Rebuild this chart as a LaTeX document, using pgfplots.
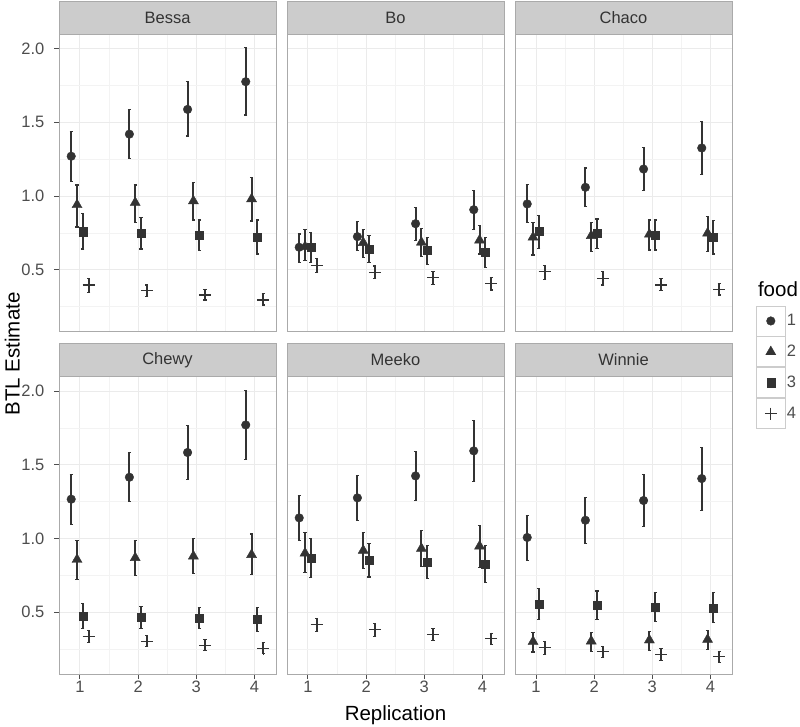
\documentclass[border=0pt]{standalone}
\usepackage{pgfplots}
\pgfplotsset{compat=1.18}
\usepackage{pgfplotstable}
\usepackage{fontspec}
\setmainfont{Liberation Sans}
\definecolor{pt}{HTML}{333333}
\definecolor{gridmaj}{HTML}{EBEBEB}
\definecolor{gridmin}{HTML}{F3F3F3}
\definecolor{stripfill}{HTML}{CCCCCC}
\definecolor{frame}{HTML}{AAAAAA}
\definecolor{ticktext}{HTML}{4D4D4D}
\definecolor{keyborder}{HTML}{CCCCCC}

\pgfplotstableread{
rep y1 l1 h1 y2 l2 h2 y3 l3 h3 y4 l4 h4
1 1.270 1.100 1.440 0.940 0.790 1.075 0.758 0.640 0.880 0.396 0.346 0.440
2 1.420 1.256 1.588 0.955 0.820 1.075 0.747 0.640 0.853 0.357 0.320 0.396
3 1.588 1.407 1.776 0.966 0.837 1.090 0.735 0.630 0.837 0.328 0.294 0.367
4 1.776 1.550 2.007 0.980 0.830 1.124 0.720 0.606 0.837 0.294 0.260 0.340
}\bessa
\pgfplotstableread{
rep y1 l1 h1 y2 l2 h2 y3 l3 h3 y4 l4 h4
1 0.652 0.550 0.742 0.656 0.560 0.770 0.652 0.550 0.750 0.527 0.480 0.577
2 0.724 0.630 0.826 0.683 0.580 0.770 0.640 0.547 0.730 0.482 0.440 0.525
3 0.812 0.700 0.920 0.685 0.590 0.780 0.630 0.536 0.717 0.446 0.400 0.486
4 0.907 0.770 1.040 0.700 0.606 0.800 0.618 0.516 0.717 0.405 0.362 0.448
}\bo
\pgfplotstableread{
rep y1 l1 h1 y2 l2 h2 y3 l3 h3 y4 l4 h4
1 0.946 0.820 1.080 0.720 0.600 0.820 0.762 0.645 0.870 0.486 0.434 0.530
2 1.059 0.930 1.190 0.730 0.622 0.820 0.747 0.645 0.844 0.440 0.396 0.486
3 1.183 1.036 1.330 0.740 0.633 0.837 0.735 0.633 0.837 0.396 0.357 0.440
4 1.326 1.147 1.505 0.747 0.622 0.860 0.720 0.606 0.833 0.367 0.328 0.407
}\chaco
\pgfplotstableread{
rep y1 l1 h1 y2 l2 h2 y3 l3 h3 y4 l4 h4
1 1.267 1.097 1.434 0.857 0.720 0.986 0.473 0.389 0.559 0.335 0.292 0.378
2 1.416 1.249 1.586 0.869 0.751 0.986 0.466 0.389 0.540 0.303 0.265 0.342
3 1.584 1.400 1.769 0.880 0.760 1.000 0.460 0.387 0.534 0.276 0.242 0.314
4 1.771 1.538 2.004 0.890 0.756 1.030 0.450 0.371 0.534 0.253 0.217 0.292
}\chewy
\pgfplotstableread{
rep y1 l1 h1 y2 l2 h2 y3 l3 h3 y4 l4 h4
1 1.140 0.986 1.294 0.900 0.767 1.040 0.867 0.733 0.998 0.414 0.371 0.457
2 1.276 1.124 1.428 0.919 0.796 1.040 0.853 0.738 0.966 0.382 0.337 0.421
3 1.425 1.258 1.593 0.932 0.808 1.054 0.839 0.726 0.952 0.348 0.310 0.389
4 1.595 1.385 1.803 0.948 0.805 1.088 0.828 0.699 0.952 0.321 0.280 0.355
}\meeko
\pgfplotstableread{
rep y1 l1 h1 y2 l2 h2 y3 l3 h3 y4 l4 h4
1 1.007 0.853 1.158 0.300 0.230 0.360 0.552 0.450 0.658 0.258 0.213 0.300
2 1.124 0.966 1.280 0.303 0.235 0.364 0.545 0.450 0.643 0.230 0.190 0.269
3 1.258 1.084 1.432 0.310 0.242 0.367 0.536 0.439 0.631 0.213 0.172 0.253
4 1.407 1.190 1.620 0.314 0.247 0.378 0.529 0.428 0.631 0.197 0.156 0.235
}\winnie

\pgfplotsset{
  panel/.style={
    scale only axis, width=217pt, height=297.5pt,
    anchor=south west,
    xmin=0.64, xmax=4.37, ymin=0.08, ymax=2.10,
    xtick={1,2,3,4}, minor xtick={1.5,2.5,3.5},
    ytick={0.5,1,1.5,2}, minor ytick={0.25,0.75,1.25,1.75},
    xticklabels={}, yticklabels={},
    grid=both,
    major grid style={gridmaj, line width=0.9pt},
    minor grid style={gridmin, line width=0.6pt},
    axis line style={frame, line width=0.9pt},
    tick align=outside, tick pos=left,
    major tick length=5pt, minor tick length=0pt,
    tick style={ticktext, line width=0.9pt},
    ticklabel style={font=\fontsize{16.5}{18}\selectfont, text=ticktext},
    yticklabel style={inner xsep=1.5pt, xshift=-8pt},
    xticklabel style={inner ysep=2pt},
    error bars/y dir=both, error bars/y explicit,
    error bars/error bar style={line width=1.9pt, pt},
    error bars/error mark options={rotate=90, pt, line width=1.2pt, mark size=1.6pt},
    legend image code/.code={
      \draw[keyborder, fill=white, line width=0.9pt] (0pt,-15pt) rectangle (29pt,15pt);
      \draw plot[only marks] coordinates {(14.5pt,0pt)};
    },
  },
  strip/.style={
    after end axis/.append code={
      \draw[frame, fill=stripfill, line width=0.9pt] (rel axis cs:0,1) rectangle ([yshift=33pt]rel axis cs:1,1);
      \node[font=\fontsize{16.5}{18}\selectfont, text=pt, inner sep=0pt] at ([yshift=16.5pt]rel axis cs:0.5,1) {#1};
    }
  },
  f1/.style={only marks, pt, mark=*, mark size=4.3pt, mark options={draw=none, fill=pt}},
  f2/.style={only marks, pt, mark=triangle*, mark size=5.8pt, mark options={draw=none, fill=pt}},
  f3/.style={only marks, pt, mark=square*, mark size=4.1pt, mark options={draw=none, fill=pt}},
  f4/.style={only marks, pt, mark=+, mark size=6pt, mark options={line width=1.1pt, draw=pt}},
}
\newcommand{\fourplots}[1]{%
  \addplot[f1] table[x expr=\thisrow{rep}-0.15, y=y1, y error plus expr=\thisrow{h1}-\thisrow{y1}, y error minus expr=\thisrow{y1}-\thisrow{l1}] {#1};
  \addplot[f2] table[x expr=\thisrow{rep}-0.05, y=y2, y error plus expr=\thisrow{h2}-\thisrow{y2}, y error minus expr=\thisrow{y2}-\thisrow{l2}] {#1};
  \addplot[f3] table[x expr=\thisrow{rep}+0.05, y=y3, y error plus expr=\thisrow{h3}-\thisrow{y3}, y error minus expr=\thisrow{y3}-\thisrow{l3}] {#1};
  \addplot[f4] table[x expr=\thisrow{rep}+0.15, y=y4, y error plus expr=\thisrow{h4}-\thisrow{y4}, y error minus expr=\thisrow{y4}-\thisrow{l4}] {#1};
}

\begin{document}
\begin{tikzpicture}[x=1pt,y=1pt]
\useasboundingbox (0,0) rectangle (800,726);

% row 1
\begin{axis}[panel, at={(59pt,394.5pt)}, strip={Bessa},
  yticklabels={0.5,1.0,1.5,2.0}, xtick style={draw=none}]
\fourplots{\bessa}
\end{axis}
\begin{axis}[panel, at={(287pt,394.5pt)}, strip={Bo},
  xtick style={draw=none}, ytick style={draw=none}]
\fourplots{\bo}
\end{axis}
\begin{axis}[panel, at={(515pt,394.5pt)}, strip={Chaco},
  xtick style={draw=none}, ytick style={draw=none},
  legend style={at={(axis description cs:1.109,0.088)}, anchor=north west,
    draw=none, fill=none, inner sep=0pt, row sep=0pt,
    nodes={inner xsep=1pt, inner ysep=0pt},
    font=\fontsize{16.5}{18}\selectfont, text=ticktext},
  legend cell align=left]
\fourplots{\chaco}
\legend{1,2,3,4}
\end{axis}

% row 2
\begin{axis}[panel, at={(59pt,52pt)}, strip={Chewy},
  yticklabels={0.5,1.0,1.5,2.0}, xticklabels={1,2,3,4}]
\fourplots{\chewy}
\end{axis}
\begin{axis}[panel, at={(287pt,52pt)}, strip={Meeko},
  xticklabels={1,2,3,4}, ytick style={draw=none}]
\fourplots{\meeko}
\end{axis}
\begin{axis}[panel, at={(515pt,52pt)}, strip={Winnie},
  xticklabels={1,2,3,4}, ytick style={draw=none}]
\fourplots{\winnie}
\end{axis}

\node[anchor=base, font=\fontsize{20.5}{22}\selectfont] at (395.5,6) {Replication};
\node[anchor=base, rotate=90, font=\fontsize{20.5}{22}\selectfont] at (19.5,372) {BTL Estimate};
\node[anchor=base west, font=\fontsize{20.5}{22}\selectfont] at (754.5,429) {food};
\end{tikzpicture}
\end{document}
